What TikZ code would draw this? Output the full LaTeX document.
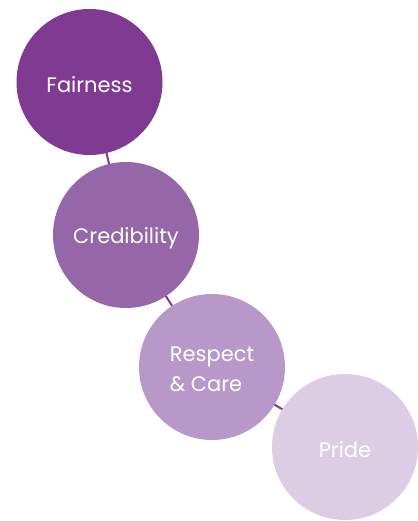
\documentclass[tikz,border=0pt]{standalone}
\usepackage{fontspec}
\setmainfont{Poppins}
\definecolor{cA}{HTML}{7F3A91}
\definecolor{cB}{HTML}{9566A8}
\definecolor{cC}{HTML}{B898C8}
\definecolor{cD}{HTML}{DCCDE5}
\newcommand{\lowtext}[1]{\raisebox{-3pt}[\height][\depth]{#1}}
\begin{document}
\begin{tikzpicture}[x=1pt,y=-1pt,
  bubble/.style={circle,minimum size=146pt,inner sep=0pt,text=white,font=\fontsize{21}{31}\selectfont},
  link/.style={draw=cA,line width=2pt}]
\useasboundingbox (0,0) rectangle (417,521);
\coordinate (pa) at (89.5,82);
\coordinate (pb) at (126,235);
\coordinate (pc) at (212,367);
\coordinate (pd) at (345,447);
\draw[link] (pa) -- (pb) -- (pc) -- (pd);
\node[bubble,fill=cA] (a) at (pa) {\lowtext{Fairness}};
\node[bubble,fill=cB] (b) at (pb) {\lowtext{Credibility}};
\node[bubble,fill=cC] (c) at (pc) {\lowtext{\begin{tabular}{@{}l@{}}Respect\\[-1pt]\& Care\end{tabular}}};
\node[bubble,fill=cD] (d) at (pd) {\lowtext{Pride}};
\end{tikzpicture}
\end{document}
